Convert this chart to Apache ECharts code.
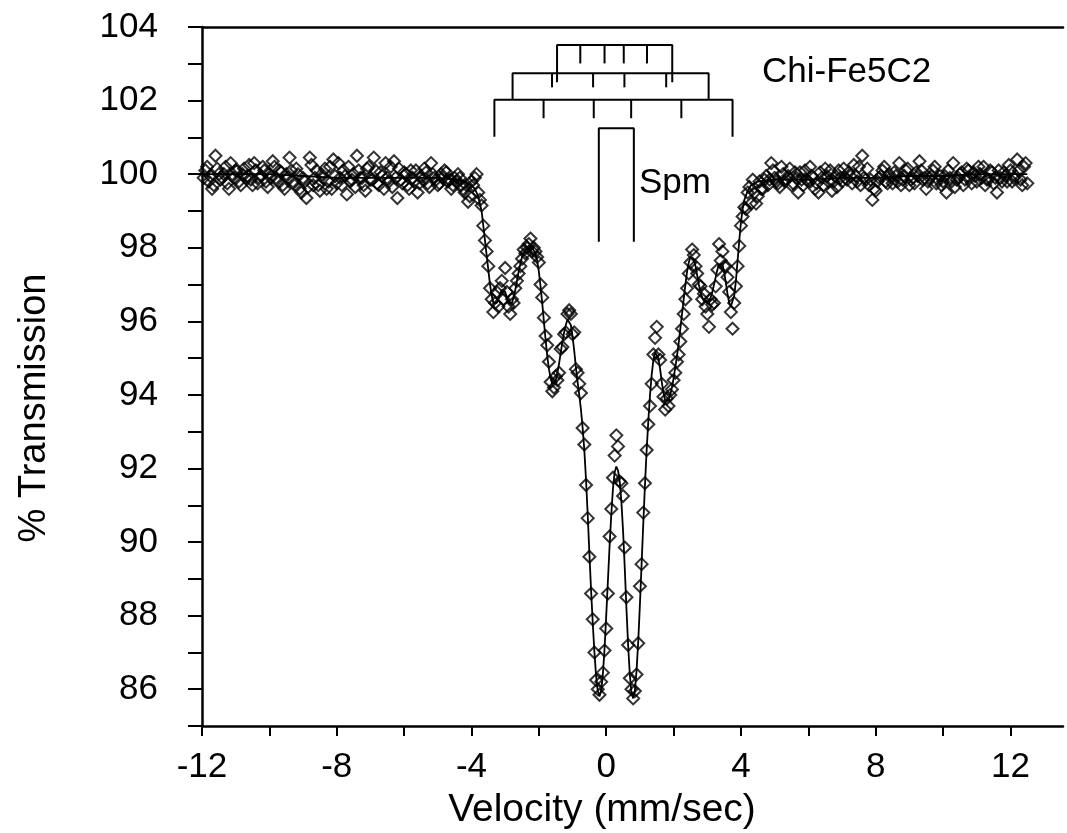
<!DOCTYPE html>
<html><head><meta charset="utf-8">
<script src="https://cdn.jsdelivr.net/npm/echarts@6/dist/echarts.min.js"></script>
<style>html,body{margin:0;padding:0;background:#fff}#c{width:1067px;height:833px}</style>
</head><body><div id="c"></div>
<script>
// ---- measured data (velocity mm/s, % transmission) ----
const leftVel = [-11.9,-11.8,-11.7,-11.6,-11.5,-11.4,-11.3,-11.2,-11.1,-11.0,
 -10.9,-10.8,-10.7,-10.6,-10.5,-10.4,-10.3,-10.2,-10.1,-10.0,
 -9.9,-9.8,-9.7,-9.6,-9.5,-9.4,-9.3,-9.2,-9.1,-9.0,
 -8.9,-8.8,-8.7,-8.6,-8.5,-8.4,-8.3,-8.2,-8.1,-8.0,
 -7.9,-7.8,-7.7,-7.6,-7.5,-7.4,-7.3,-7.2,-7.1,-7.0,
 -6.9,-6.8,-6.7,-6.6,-6.5,-6.4,-6.3,-6.2,-6.1,-6.0,
 -5.9,-5.8,-5.7,-5.6,-5.5,-5.4,-5.3,-5.2,-5.1,-5.0,
 -4.9,-4.8,-4.7,-4.6,-4.5,-4.4,-4.3,-4.2,-4.1,-4.0];
const leftTrans = [100.1,99.8,99.6,100.5,100.0,99.9,100.2,99.6,100.0,100.1,
 99.8,100.0,99.9,100.25,99.7,100.1,99.9,100.2,99.8,100.0,
 100.35,99.9,100.1,99.7,100.0,100.45,99.8,100.15,99.6,99.9,
 99.35,100.45,99.7,100.1,99.55,99.9,99.6,100.2,100.4,99.75,
 99.9,100.1,99.45,99.8,100.0,100.5,99.9,99.7,100.15,99.85,
 100.45,99.75,100.05,99.6,99.9,100.2,100.35,99.35,99.85,100.05,
 99.7,100.1,99.8,99.5,99.95,100.15,99.75,100.3,99.9,99.7,
 100.0,100.1,99.8,99.6,99.9,100.0,99.7,99.5,99.25,99.8];
const leftVelB = [-11.95,-11.85,-11.75,-11.65,-11.55,-11.45,-11.35,-11.25,-11.15,-11.05,
 -10.95,-10.85,-10.75,-10.65,-10.55,-10.45,-10.35,-10.25,-10.15,-10.05,
 -9.95,-9.85,-9.75,-9.65,-9.55,-9.45,-9.35,-9.25,-9.15,-9.05,
 -8.95,-8.85,-8.75,-8.65,-8.55,-8.45,-8.35,-8.25,-8.15,-8.05,
 -7.95,-7.85,-7.75,-7.65,-7.55,-7.45,-7.35,-7.25,-7.15,-7.05,
 -6.95,-6.85,-6.75,-6.65,-6.55,-6.45,-6.35,-6.25,-6.15,-6.05,
 -5.95,-5.85,-5.75,-5.65,-5.55,-5.45,-5.35,-5.25,-5.15,-5.05,
 -4.95,-4.85,-4.75,-4.65,-4.55,-4.45,-4.35,-4.25,-4.15,-4.05];
const leftTransB = [99.9,100.2,99.95,99.7,100.15,99.85,100.0,99.75,100.3,99.9,
 100.1,99.7,100.15,99.95,99.85,100.3,99.75,99.95,100.1,99.65,
 99.9,100.2,99.8,100.05,99.6,99.9,100.1,99.7,100.0,99.5,
 99.8,99.65,100.25,99.9,99.7,100.0,100.15,99.8,99.6,99.95,
 100.3,99.7,99.95,100.2,99.85,99.65,100.1,99.9,99.55,100.2,
 99.85,100.1,99.7,99.95,100.3,99.8,99.65,99.9,100.15,99.75,
 100.0,99.6,99.9,100.1,99.75,99.85,100.05,99.65,100.0,99.85,
 99.75,99.9,100.05,99.85,99.7,99.8,99.9,99.6,99.7,99.4];

const centerVel = [-3.95,-3.9,-3.85,-3.8,-3.75,-3.7,-3.65,-3.6,-3.55,-3.5,
 -3.45,-3.4,-3.35,-3.3,-3.25,-3.2,-3.15,-3.1,-3.05,-3.0,
 -2.95,-2.9,-2.85,-2.8,-2.75,-2.7,-2.65,-2.6,-2.55,-2.5,
 -2.45,-2.4,-2.35,-2.3,-2.25,-2.2,-2.15,-2.1,-2.05,-2.0,
 -1.95,-1.9,-1.85,-1.8,-1.75,-1.7,-1.65,-1.6,-1.55,-1.5,
 -1.45,-1.4,-1.35,-1.3,-1.25,-1.2,-1.15,-1.1,-1.05,-1.0,
 -0.95,-0.9,-0.85,-0.8,-0.75,-0.7,-0.65,-0.6,-0.55,-0.5,
 -0.45,-0.4,-0.35,-0.3,-0.25,-0.2,-0.15,-0.1,-0.05,0.0,
 0.05,0.1,0.15,0.2,0.25,0.3,0.35,0.4,0.45,0.5,
 0.55,0.6,0.65,0.7,0.75,0.8,0.85,0.9,0.95,1.0,
 1.05,1.1,1.15,1.2,1.25,1.3,1.35,1.4,1.45,1.5,
 1.55,1.6,1.65,1.7,1.75,1.8,1.85,1.9,1.95,2.0,
 2.05,2.1,2.15,2.2,2.25,2.3,2.35,2.4,2.45,2.5,
 2.55,2.6,2.65,2.7,2.75,2.8,2.85,2.9,2.95,3.0,
 3.05,3.1,3.15,3.2,3.25,3.3,3.35,3.4,3.45,3.5,
 3.55,3.6,3.65,3.7,3.75,3.8,3.85,3.9,3.95,4.0,
 4.05,4.1,4.15,4.2,4.25,4.3,4.35,4.4,4.45,4.5,
 4.55,4.6];
const centerTrans = [99.7,99.9,100.0,99.5,99.3,99.15,98.6,98.2,97.9,97.5,
 96.9,96.6,96.25,96.5,96.8,96.4,96.9,97.1,96.6,97.45,
 96.8,96.4,96.2,96.6,96.5,96.9,97.1,97.3,97.5,97.7,
 97.95,97.85,98.0,98.1,98.25,97.9,98.0,97.9,97.75,97.6,
 97.0,96.65,96.1,95.6,95.35,94.9,94.35,94.1,94.2,94.5,
 94.4,94.6,95.25,95.3,95.65,95.7,96.2,96.3,96.2,95.65,
 95.7,94.7,94.6,94.3,94.05,93.1,92.65,91.55,90.65,89.6,
 88.6,87.9,87.0,86.25,86.0,85.85,86.2,86.45,87.05,87.65,
 88.6,90.15,90.9,91.75,92.35,92.9,92.6,91.65,91.6,91.25,
 89.85,88.5,87.2,86.3,86.0,85.75,85.95,86.4,87.25,88.8,
 89.4,90.8,91.6,92.5,93.2,93.7,94.3,95.1,95.55,95.85,
 95.1,94.95,94.3,93.95,93.6,93.9,93.7,94.0,94.15,94.4,
 94.6,94.9,95.1,95.45,95.8,96.2,96.6,96.9,97.3,97.6,
 97.95,97.8,97.5,97.3,97.0,96.95,96.6,96.75,96.4,96.2,
 95.85,96.6,96.45,96.5,96.95,97.4,98.1,97.65,97.9,97.5,
 97.5,97.2,96.8,96.25,95.8,96.5,96.95,97.5,98.05,98.6,
 98.85,99.1,99.05,99.5,99.65,99.2,99.85,99.5,99.2,99.4,
 99.8,99.6];

const rightVel = [4.7,4.8,4.9,5.0,5.1,5.2,5.3,5.4,5.5,5.6,
 5.7,5.8,5.9,6.0,6.1,6.2,6.3,6.4,6.5,6.6,
 6.7,6.8,6.9,7.0,7.1,7.2,7.3,7.4,7.5,7.6,
 7.7,7.8,7.9,8.0,8.1,8.2,8.3,8.4,8.5,8.6,
 8.7,8.8,8.9,9.0,9.1,9.2,9.3,9.4,9.5,9.6,
 9.7,9.8,9.9,10.0,10.1,10.2,10.3,10.4,10.5,10.6,
 10.7,10.8,10.9,11.0,11.1,11.2,11.3,11.4,11.5,11.6,
 11.7,11.8,11.9,12.0,12.1,12.2,12.3,12.4,12.5];
const rightTrans = [99.85,99.7,100.3,99.9,99.75,100.2,99.8,99.95,99.7,100.05,
 99.5,99.85,100.1,99.8,99.95,99.6,99.5,99.9,100.15,99.8,
 99.55,99.95,100.1,99.8,99.9,100.05,99.75,99.95,100.2,100.5,
 99.85,99.7,99.3,99.55,99.9,100.1,99.8,100.0,99.75,99.95,
 100.3,99.85,100.1,99.7,99.9,100.05,100.35,99.85,99.6,99.9,
 100.1,99.75,99.95,99.8,99.5,99.9,100.3,99.85,100.0,99.7,
 100.15,99.9,100.05,99.8,100.0,100.2,99.85,100.1,99.75,99.5,
 99.9,100.05,99.8,100.1,99.9,100.4,99.85,100.2,99.75];
const rightVelB = [4.65,4.75,4.85,4.95,5.05,5.15,5.25,5.35,5.45,5.55,
 5.65,5.75,5.85,5.95,6.05,6.15,6.25,6.35,6.45,6.55,
 6.65,6.75,6.85,6.95,7.05,7.15,7.25,7.35,7.45,7.55,
 7.65,7.75,7.85,7.95,8.05,8.15,8.25,8.35,8.45,8.55,
 8.65,8.75,8.85,8.95,9.05,9.15,9.25,9.35,9.45,9.55,
 9.65,9.75,9.85,9.95,10.05,10.15,10.25,10.35,10.45,10.55,
 10.65,10.75,10.85,10.95,11.05,11.15,11.25,11.35,11.45,11.55,
 11.65,11.75,11.85,11.95,12.05,12.15,12.25,12.35,12.45];
const rightTransB = [99.6,99.95,99.85,100.1,99.8,99.65,100.0,99.85,100.15,99.75,
 99.9,100.05,99.7,99.85,100.2,99.9,99.75,100.05,99.7,99.95,
 100.1,99.8,99.65,99.9,100.15,99.85,99.95,100.25,99.8,99.7,
 99.9,100.15,99.85,99.6,99.8,99.95,100.2,99.75,99.9,100.05,
 99.8,99.7,99.95,100.15,99.85,99.75,99.95,100.1,99.9,99.8,
 99.95,100.2,99.85,99.7,99.95,100.1,99.8,99.65,99.9,100.05,
 99.85,100.1,99.75,99.95,100.2,99.9,99.7,99.85,100.05,99.9,
 100.1,99.8,99.95,100.25,99.8,99.95,100.1,99.7,100.3];

// fitted curve
const fitVel = [-12,-11,-10,-9,-8,-7,-6,-5,-4.5,-4.2,
 -4,-3.9,-3.8,-3.75,-3.7,-3.65,-3.6,-3.55,-3.5,-3.45,
 -3.4,-3.35,-3.3,-3.25,-3.2,-3.15,-3.1,-3.05,-3,-2.95,
 -2.9,-2.85,-2.8,-2.75,-2.7,-2.65,-2.6,-2.55,-2.5,-2.45,
 -2.4,-2.35,-2.3,-2.25,-2.2,-2.15,-2.1,-2.05,-2,-1.95,
 -1.9,-1.85,-1.8,-1.75,-1.7,-1.65,-1.6,-1.55,-1.5,-1.45,
 -1.4,-1.35,-1.3,-1.25,-1.2,-1.15,-1.1,-1.05,-1,-0.95,
 -0.9,-0.85,-0.8,-0.75,-0.7,-0.65,-0.6,-0.55,-0.5,-0.45,
 -0.4,-0.35,-0.3,-0.25,-0.2,-0.15,-0.1,-0.05,0,0.05,
 0.1,0.15,0.2,0.25,0.3,0.35,0.4,0.45,0.5,0.55,
 0.6,0.65,0.7,0.75,0.8,0.85,0.9,0.95,1,1.05,
 1.1,1.15,1.2,1.25,1.3,1.35,1.4,1.45,1.5,1.55,
 1.6,1.65,1.7,1.75,1.8,1.85,1.9,1.95,2,2.05,
 2.1,2.15,2.2,2.25,2.3,2.35,2.4,2.45,2.5,2.55,
 2.6,2.65,2.7,2.75,2.8,2.85,2.9,2.95,3,3.05,
 3.1,3.15,3.2,3.25,3.3,3.35,3.4,3.45,3.5,3.55,
 3.6,3.65,3.7,3.75,3.8,3.85,3.9,3.95,4,4.05,
 4.1,4.2,4.3,4.5,5,6,7,8,9,10,
 11,12,12.5];
const fitTrans = [100.0,100.0,100.0,99.95,99.9,99.9,99.9,99.9,99.85,99.8,
 99.7,99.6,99.4,99.2,99.0,98.6,98.2,97.8,97.4,97.0,
 96.7,96.5,96.45,96.5,96.6,96.75,96.85,96.85,96.8,96.65,
 96.5,96.45,96.5,96.65,96.85,97.1,97.35,97.55,97.75,97.85,
 97.95,98.0,98.05,98.05,98.0,97.95,97.85,97.65,97.35,96.95,
 96.5,96.0,95.5,95.05,94.7,94.45,94.3,94.3,94.4,94.6,
 94.85,95.15,95.45,95.7,95.9,96.05,96.05,95.9,95.6,95.2,
 94.75,94.35,94.0,93.6,93.1,92.5,91.7,90.75,89.7,88.7,
 87.8,87.0,86.35,85.95,85.8,85.95,86.4,87.1,88.0,88.95,
 89.9,90.75,91.45,91.9,92.05,91.95,91.65,91.1,90.3,89.3,
 88.2,87.2,86.4,85.9,85.75,85.95,86.5,87.3,88.3,89.4,
 90.5,91.55,92.5,93.3,94.0,94.55,94.95,95.15,95.15,95.0,
 94.7,94.35,94.05,93.85,93.8,93.85,94.0,94.2,94.45,94.75,
 95.05,95.4,95.8,96.2,96.6,97.0,97.35,97.6,97.75,97.8,
 97.7,97.5,97.25,97.0,96.8,96.65,96.55,96.5,96.5,96.55,
 96.65,96.8,97.0,97.2,97.4,97.55,97.6,97.55,97.35,97.05,
 96.75,96.5,96.4,96.45,96.7,97.1,97.65,98.2,98.7,99.05,
 99.3,99.55,99.7,99.8,99.85,99.85,99.9,99.9,99.95,99.95,
 100.0,100.0,100.0];

// stick diagrams (line positions, mm/s)
const sextetOuter = [-3.32,-1.86,-0.37,0.74,2.23,3.75];
const sextetMiddle = [-2.78,-1.61,-0.39,0.54,1.78,3.04];
const sextetInner = [-1.46,-0.77,-0.05,0.52,1.21,1.96];
const spmDoublet = [-0.22,0.82];

const xTickValues = [-12,-10,-8,-6,-4,-2,0,2,4,6,8,10,12];
const xLabelValues = [-12,-8,-4,0,4,8,12];
const yLabelValues = [86,88,90,92,94,96,98,100,102,104];

// ---- build ----
const FONT = "'Liberation Sans', Arial, Helvetica, sans-serif";
const pts = [];
[[leftVel,leftTrans],[leftVelB,leftTransB],[centerVel,centerTrans],[rightVel,rightTrans],[rightVelB,rightTransB]].forEach(([v,t])=>{
  for (let i=0;i<Math.min(v.length,t.length);i++) pts.push([v[i],t[i]]);
});
const fit = [];
for (let i=0;i<Math.min(fitVel.length,fitTrans.length);i++) fit.push([fitVel[i],fitTrans[i]]);

const stickStyle = {color:'#000', width:2};
const series = [];
function seg(data){ series.push({type:'line', data, symbol:'none', silent:true, animation:false, lineStyle:stickStyle, z:3}); }
function bracket(xs, top, leg, tick){
  const a = xs[0], b = xs[xs.length-1];
  seg([[a,leg],[a,top],[b,top],[b,leg]]);
  xs.slice(1,-1).forEach(x=>seg([[x,top],[x,tick]]));
}
bracket(sextetOuter, 102.02, 101.02, 101.52);
bracket(sextetMiddle, 102.74, 102.02, 102.36);
bracket(sextetInner, 103.51, 102.5, 103.01);
seg([[spmDoublet[0],98.16],[spmDoublet[0],101.25],[spmDoublet[1],101.25],[spmDoublet[1],98.16]]);

series.push({type:'line', data:fit, symbol:'none', animation:false, silent:true,
  lineStyle:{color:'#000', width:1.8}, z:4});
series.push({type:'scatter', data:pts, symbol:'diamond', symbolSize:12, animation:false,
  itemStyle:{color:'rgba(0,0,0,0)', borderColor:'#000', borderWidth:2}, z:5});

const chart = echarts.init(document.getElementById('c'), null, {renderer:'canvas'});
chart.setOption({
  backgroundColor:'#fff',
  animation:false,
  grid:{left:202, right:4, top:27, bottom:107, containLabel:false},
  xAxis:[{
    type:'value', min:-12, max:13.56, interval:2, position:'bottom',
    axisLine:{show:true, onZero:false, lineStyle:{color:'#000', width:2.5}},
    axisTick:{show:true, inside:false, length:10, customValues:xTickValues, lineStyle:{color:'#000', width:2}},
    axisLabel:{margin:24, color:'#000', fontSize:35, fontFamily:FONT, customValues:xLabelValues,
      formatter:v=> xLabelValues.indexOf(v)>=0 ? String(v) : ''},
    splitLine:{show:false}
  },{
    type:'value', min:-12, max:13.56, position:'top',
    axisLine:{show:true, onZero:false, lineStyle:{color:'#000', width:2.5}},
    axisTick:{show:false}, axisLabel:{show:false}, splitLine:{show:false}
  }],
  yAxis:{
    type:'value', min:85, max:104, interval:1,
    axisLine:{show:true, onZero:false, lineStyle:{color:'#000', width:2.5}},
    axisTick:{show:true, inside:false, length:14, lineStyle:{color:'#000', width:2}},
    axisLabel:{margin:44, color:'#000', fontSize:35, fontFamily:FONT,
      formatter:v=> yLabelValues.indexOf(v)>=0 ? String(v) : ''},
    splitLine:{show:false}
  },
  series,
  graphic:[
    {type:'text', x:762, y:72, style:{text:'Chi-Fe5C2', fill:'#000', font:'35px '+FONT, verticalAlign:'middle', align:'left'}},
    {type:'text', x:639, y:183, style:{text:'Spm', fill:'#000', font:'35px '+FONT, verticalAlign:'middle', align:'left'}},
    {type:'text', x:602, y:810, style:{text:'Velocity (mm/sec)', fill:'#000', font:'39px '+FONT, verticalAlign:'middle', align:'center'}},
    {type:'text', x:35, y:408, rotation:Math.PI/2, style:{text:'% Transmission', fill:'#000', font:'38px '+FONT, verticalAlign:'middle', align:'center'}}
  ]
});
</script>
</body></html>
